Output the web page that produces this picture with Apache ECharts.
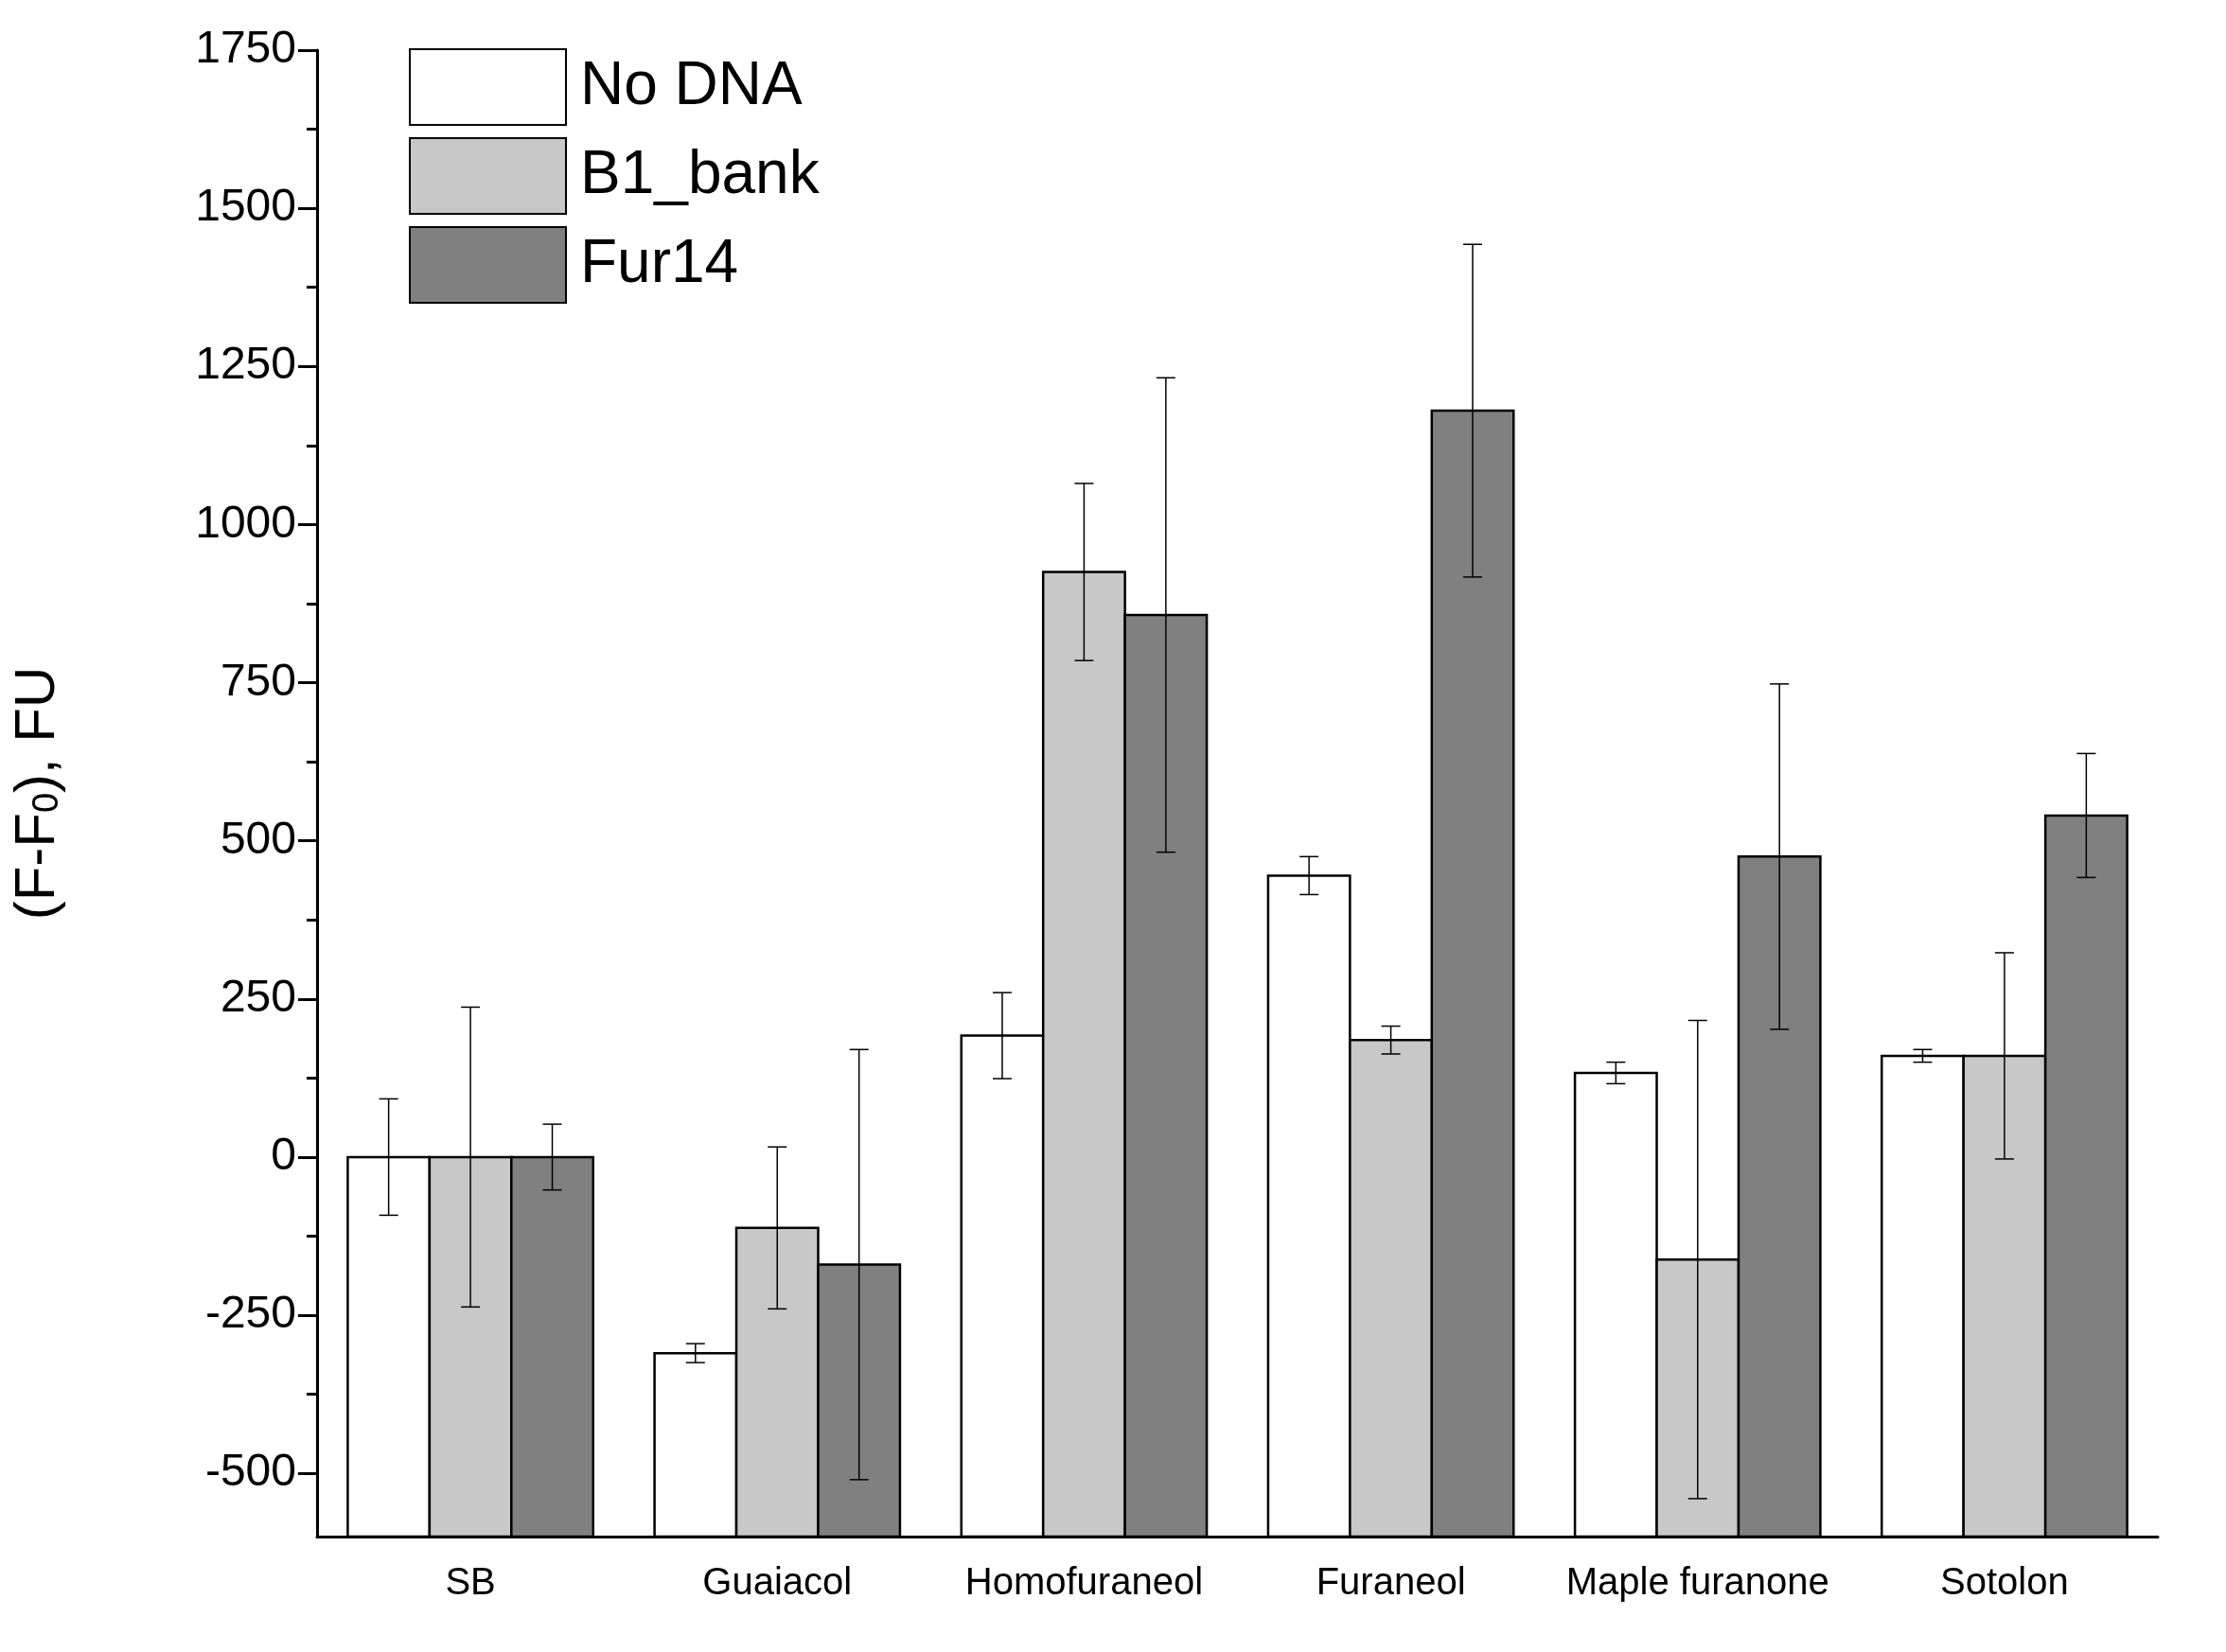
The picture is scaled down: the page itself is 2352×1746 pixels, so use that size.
<!DOCTYPE html>
<html><head><meta charset="utf-8">
<script src="https://cdn.jsdelivr.net/npm/echarts@6/dist/echarts.min.js"></script>
<style>html,body{margin:0;padding:0;background:#fff}#c{width:2352px;height:1746px}</style>
</head><body><div id="c"></div>
<script>
const categories = ['SB','Guaiacol','Homofuraneol','Furaneol','Maple furanone','Sotolon'];
const seriesNames = ['No DNA','B1_bank','Fur14'];
const noDNA = [0,-310,192,445,133,160];
const noDNAErr = [92,15,68,30,17,10];
const b1bank = [0,-112,925,185,-162,160];
const b1bankErr = [237,128,140,22,378,163];
const fur14 = [0,-170,857,1180,475,540];
const fur14Err = [52,340,375,263,273,98];
const yTicks = [-500,-250,0,250,500,750,1000,1250,1500,1750];
const yMinor = [-375,-125,125,375,625,875,1125,1375,1625];
const yMin = -600, yMax = 1750;

const colors = ['#ffffff','#c8c8c8','#808080'];
const vals = [noDNA,b1bank,fur14];
const errs = [noDNAErr,b1bankErr,fur14Err];
const chart = echarts.init(document.getElementById('c'));
const series = [];
vals.forEach((v,i)=>{
  series.push({name:seriesNames[i],type:'custom',
    itemStyle:{color:colors[i],borderColor:'#000',borderWidth:2.5},
    data:categories.map((c,k)=>[k,v[k],errs[i][k]]),
    renderItem:function(params,api){
      const k=api.value(0),val=api.value(1),er=api.value(2);
      const bw=api.size([1,0])[0]*0.8/3;
      const xc=api.coord([k,0])[0]+(i-1)*bw;
      const yv=api.coord([k,val])[1],y0=api.coord([k,yMin])[1];
      const yt=api.coord([k,val+er])[1],yb=api.coord([k,val-er])[1];
      const cw=10,st={stroke:'#000',lineWidth:1.5};
      return {type:'group',children:[
        {type:'rect',shape:{x:xc-bw/2,y:yv,width:bw,height:y0-yv},style:{fill:colors[i],stroke:'#000',lineWidth:2.5}},
        {type:'line',shape:{x1:xc,y1:yt,x2:xc,y2:yb},style:st},
        {type:'line',shape:{x1:xc-cw,y1:yt,x2:xc+cw,y2:yt},style:st},
        {type:'line',shape:{x1:xc-cw,y1:yb,x2:xc+cw,y2:yb},style:st}]};
    }});
});
chart.setOption({
  animation:false,
  grid:{left:335,right:72,top:53,bottom:122,containLabel:false},
  legend:{data:seriesNames,orient:'vertical',left:427,top:46,itemWidth:165,itemHeight:80,itemGap:12,icon:'rect',
    textStyle:{fontSize:64,color:'#000',fontFamily:'Liberation Sans',padding:[0,0,0,10]}},
  xAxis:{type:'category',data:categories,
    axisLine:{onZero:false,lineStyle:{color:'#000',width:3}},
    axisTick:{alignWithLabel:true,length:14,lineStyle:{color:'#000',width:3}},
    axisLabel:{interval:0,fontSize:40,color:'#000',margin:30,fontFamily:'Liberation Sans'}},
  yAxis:[{type:'value',min:yMin,max:yMax,
    name:'(F-F{s|0}), FU',nameLocation:'middle',nameGap:265,
    nameTextStyle:{fontSize:60,color:'#000',fontFamily:'Liberation Sans',rich:{s:{fontSize:38,verticalAlign:'bottom',padding:[20,0,0,0]}}},
    axisLine:{show:true,onZero:false,lineStyle:{color:'#000',width:3}},
    axisTick:{show:true,length:20,customValues:yTicks,lineStyle:{color:'#000',width:3}},
    axisLabel:{fontSize:48,color:'#000',margin:22,customValues:yTicks,formatter:v=>String(v),fontFamily:'Liberation Sans'},
    splitLine:{show:false}},
   {type:'value',min:yMin,max:yMax,position:'left',
    axisLine:{show:false},
    axisTick:{show:true,length:11,customValues:yMinor,lineStyle:{color:'#000',width:3}},
    axisLabel:{show:false,customValues:yMinor},splitLine:{show:false}}],
  series:series
});
</script></body></html>
